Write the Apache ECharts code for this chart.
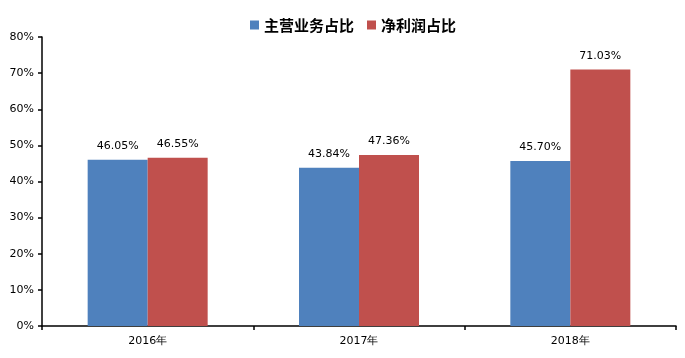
<!DOCTYPE html>
<html><head><meta charset="utf-8">
<script src="https://cdn.jsdelivr.net/npm/echarts@6/dist/echarts.min.js"></script>
<style>html,body{margin:0;padding:0;background:#fff}#c{width:685px;height:358px}</style>
</head><body><div id="c"></div>
<script>
const categories = ['2016年', '2017年', '2018年'];
const mainBiz = [46.05, 43.84, 45.70];
const netProfit = [46.55, 47.36, 71.03];
const yTicks = [0, 10, 20, 30, 40, 50, 60, 70, 80];

const chart = echarts.init(document.getElementById('c'), null, {renderer: 'canvas'});
const labelStyle = {
  show: true, position: 'top', distance: 8,
  formatter: p => p.value.toFixed(2) + '%',
  color: '#000', fontSize: 11, fontFamily: 'DejaVu Sans, Verdana, sans-serif'
};
chart.setOption({
  animation: false,
  legend: {
    left: 245, top: 11, itemWidth: 9, itemHeight: 9, itemGap: 13,
    icon: 'rect',
    textStyle: {fontSize: 15, lineHeight: 18, fontWeight: 'bold', color: '#000', fontFamily: 'Noto Sans CJK SC, sans-serif'},
    data: ['主营业务占比', '净利润占比']
  },
  grid: {left: 42, right: 9, top: 37, bottom: 32, containLabel: false},
  xAxis: {
    type: 'category', data: categories,
    axisLine: {lineStyle: {color: '#000', width: 1.5}},
    axisTick: {show: true, alignWithLabel: false, length: 4, lineStyle: {color: '#000', width: 1.5}},
    axisLabel: {color: '#000', fontSize: 11, margin: 10, fontFamily: 'DejaVu Sans, Verdana, sans-serif'}
  },
  yAxis: {
    type: 'value', min: yTicks[0], max: yTicks[yTicks.length - 1], interval: 10,
    axisLine: {show: true, lineStyle: {color: '#000', width: 1.5}},
    axisTick: {show: true, length: 4, lineStyle: {color: '#000', width: 1.5}},
    splitLine: {show: false},
    axisLabel: {color: '#000', fontSize: 11, margin: 8, formatter: v => v + '%', fontFamily: 'DejaVu Sans, Verdana, sans-serif'}
  },
  series: [
    {name: '主营业务占比', type: 'bar', data: mainBiz, barWidth: 60, barGap: '0%',
     itemStyle: {color: '#4F81BD'}, label: labelStyle},
    {name: '净利润占比', type: 'bar', data: netProfit, barWidth: 60, barGap: '0%',
     itemStyle: {color: '#C0504D'}, label: labelStyle}
  ]
});
</script></body></html>
